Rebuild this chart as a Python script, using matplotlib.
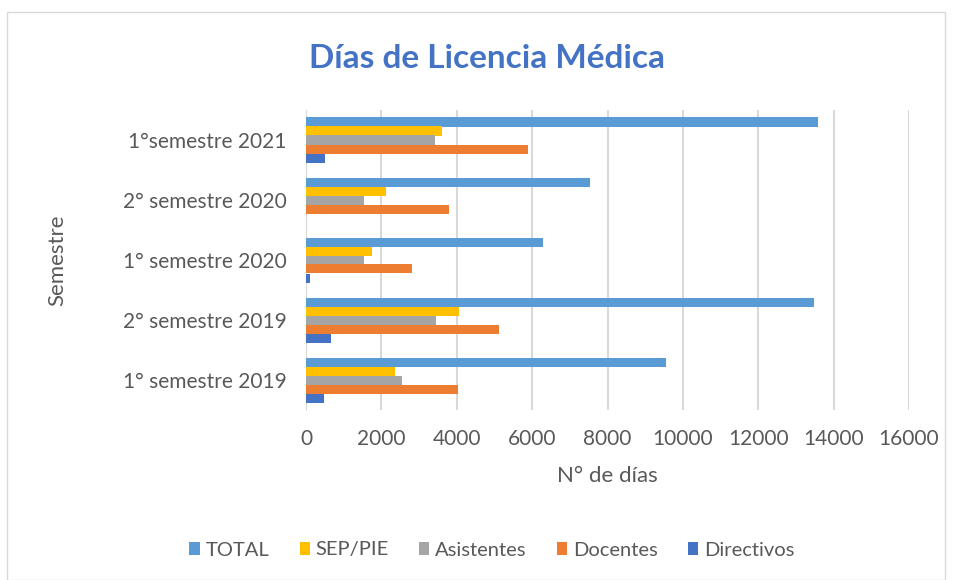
import matplotlib.pyplot as plt
import numpy as np
from matplotlib.patches import Rectangle

plt.rcParams['font.family'] = ['Lato', 'DejaVu Sans']

categories = ['1° semestre 2019', '2° semestre 2019', '1° semestre 2020',
              '2° semestre 2020', '1°semestre 2021']
series_names = ['TOTAL', 'SEP/PIE', 'Asistentes', 'Docentes', 'Directivos']
total = [9560, 13480, 6280, 7545, 13590]
sep_pie = [2360, 4060, 1740, 2120, 3615]
asistentes = [2560, 3440, 1530, 1530, 3415]
docentes = [4025, 5120, 2805, 3790, 5900]
directivos = [475, 675, 105, 0, 515]
colors = ['#5B9BD5', '#FFC000', '#A5A5A5', '#ED7D31', '#4472C4']

values = [total, sep_pie, asistentes, docentes, directivos]

fig = plt.figure(figsize=(9.56, 5.8), dpi=100)
ax = fig.add_axes([306 / 956, 1 - 410 / 580, (909 - 306) / 956, 300 / 580])

y = np.arange(len(categories))
h = 0.15
for i, (name, vals, c) in enumerate(zip(series_names, values, colors)):
    offset = (2 - i) * h
    ax.barh(y + offset, vals, height=h, color=c, label=name, zorder=3)

ax.set_xlim(0, 16000)
ax.set_ylim(-0.5, 4.5)
ax.set_xticks(np.arange(0, 16001, 2000))
ax.set_yticks(y)
ax.set_yticklabels(categories)
ax.grid(axis='x', color='#D9D9D9', linewidth=1.5, zorder=0)
for s in ['top', 'right', 'bottom']:
    ax.spines[s].set_visible(False)
ax.spines['left'].set_color('#D9D9D9')
ax.tick_params(axis='y', length=0, labelsize=15, labelcolor='#595959', pad=14)
ax.tick_params(axis='x', length=0, labelsize=15, labelcolor='#595959', pad=14)
ax.set_xlabel('N° de días', fontsize=16, color='#595959', labelpad=12)
ax.set_ylabel('Semestre', fontsize=16, color='#595959', labelpad=40)

fig.text(487 / 956, 1 - 58 / 580, 'Días de Licencia Médica', ha='center', va='center',
         fontsize=24, fontweight='bold', color='#4472C4')

fig.legend(loc='center', bbox_to_anchor=(492 / 956, 1 - 550 / 580), ncol=5, frameon=False,
           fontsize=14.5, handlelength=0.5, handleheight=0.6, handletextpad=0.3,
           columnspacing=1.5, labelcolor='#595959')

fig.patches.append(Rectangle((7 / 956, 0), 938 / 956, 1 - 12 / 580, transform=fig.transFigure,
                             fill=False, edgecolor='#D9D9D9', linewidth=1))

fig.savefig('out.png', dpi=100)
